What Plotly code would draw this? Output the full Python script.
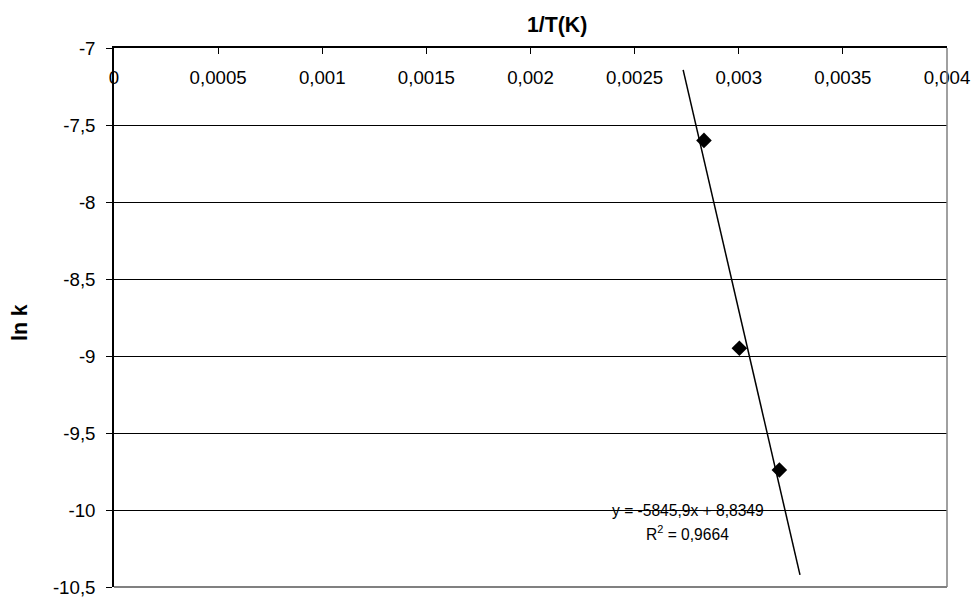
import plotly.graph_objects as go

# Data
inv_T = [0.002833, 0.003003, 0.003195]
ln_k = [-7.60, -8.95, -9.74]
slope = -5845.9
intercept = 8.8349
r2 = 0.9664
trend_x = [0.002733, 0.003294]
x_ticks = [0, 0.0005, 0.001, 0.0015, 0.002, 0.0025, 0.003, 0.0035, 0.004]
x_tick_labels = ["0", "0,0005", "0,001", "0,0015", "0,002", "0,0025", "0,003", "0,0035", "0,004"]
y_ticks = [-7, -7.5, -8, -8.5, -9, -9.5, -10, -10.5]
y_tick_labels = ["-7", "-7,5", "-8", "-8,5", "-9", "-9,5", "-10", "-10,5"]

trend_y = [slope * x + intercept for x in trend_x]

FONT = "Liberation Sans, Arial, sans-serif"
TICK_SIZE = 18.7

fig = go.Figure()
fig.add_trace(go.Scatter(x=trend_x, y=trend_y, mode="lines",
                         line=dict(color="black", width=1.5), showlegend=False, hoverinfo="skip"))
fig.add_trace(go.Scatter(x=inv_T, y=ln_k, mode="markers",
                         marker=dict(symbol="diamond", size=12, color="black"), showlegend=False))
# invisible trace to carry the label axis
fig.add_trace(go.Scatter(x=inv_T, y=ln_k, mode="markers", xaxis="x2", yaxis="y",
                         marker=dict(opacity=0), showlegend=False, hoverinfo="skip"))

fig.update_layout(
    width=976, height=597,
    margin=dict(l=114, r=29, t=48, b=10, autoexpand=False),
    paper_bgcolor="white", plot_bgcolor="white",
    font=dict(family=FONT, size=TICK_SIZE, color="black"),
    xaxis=dict(range=[0, 0.004], side="top", tickvals=x_ticks, showticklabels=False,
               ticks="inside", ticklen=6, tickcolor="black", automargin=False,
               showgrid=False, zeroline=False, showline=True, linecolor="black", linewidth=1.5),
    xaxis2=dict(range=[0, 0.004], overlaying="x", anchor="free", position=0.969, side="bottom",
                tickvals=x_ticks, ticktext=x_tick_labels, ticks="", showline=False,
                showgrid=False, zeroline=False, tickfont=dict(size=TICK_SIZE),
                ticklabeloverflow="allow", automargin=False),
    yaxis=dict(range=[-10.5, -7], tickvals=y_ticks, ticktext=y_tick_labels,
               ticks="outside", ticklen=6, tickcolor="black", ticklabelstandoff=7,
               ticklabeloverflow="allow", automargin=False,
               showgrid=True, gridcolor="black", gridwidth=1, zeroline=False,
               showline=True, linecolor="black", linewidth=1.5),
    shapes=[
        dict(type="line", xref="paper", yref="paper", x0=1, x1=1, y0=0, y1=1,
             line=dict(color="#808080", width=1.5)),
        dict(type="line", xref="paper", yref="paper", x0=0, x1=1, y0=0, y1=0,
             line=dict(color="#808080", width=2)),
    ],
    annotations=[
        dict(text="<b>1/T(K)</b>", xref="paper", yref="paper", x=(557 - 114) / 833, y=1,
             yshift=23, yanchor="middle", showarrow=False, font=dict(size=21.3)),
        dict(text="<b>ln k</b>", xref="paper", yref="paper", x=(20 - 114) / 833,
             y=(587 - 323) / 539, xanchor="center", yanchor="middle",
             textangle=-90, showarrow=False, font=dict(size=21.3)),
        dict(text="y = -5845,9x + 8,8349", x=0.002756, y=-10.006, xref="x", yref="y",
             xanchor="center", yanchor="middle", showarrow=False, font=dict(size=15.6)),
        dict(text="R<sup>2</sup> = 0,9664", x=0.002756, y=-10.15, xref="x", yref="y",
             xanchor="center", yanchor="middle", showarrow=False, font=dict(size=15.6)),
    ],
)

fig.write_html(
    "out.html",
    config={"displayModeBar": False},
    post_script="document.body.style.margin='0';document.body.style.overflow='hidden';",
)
